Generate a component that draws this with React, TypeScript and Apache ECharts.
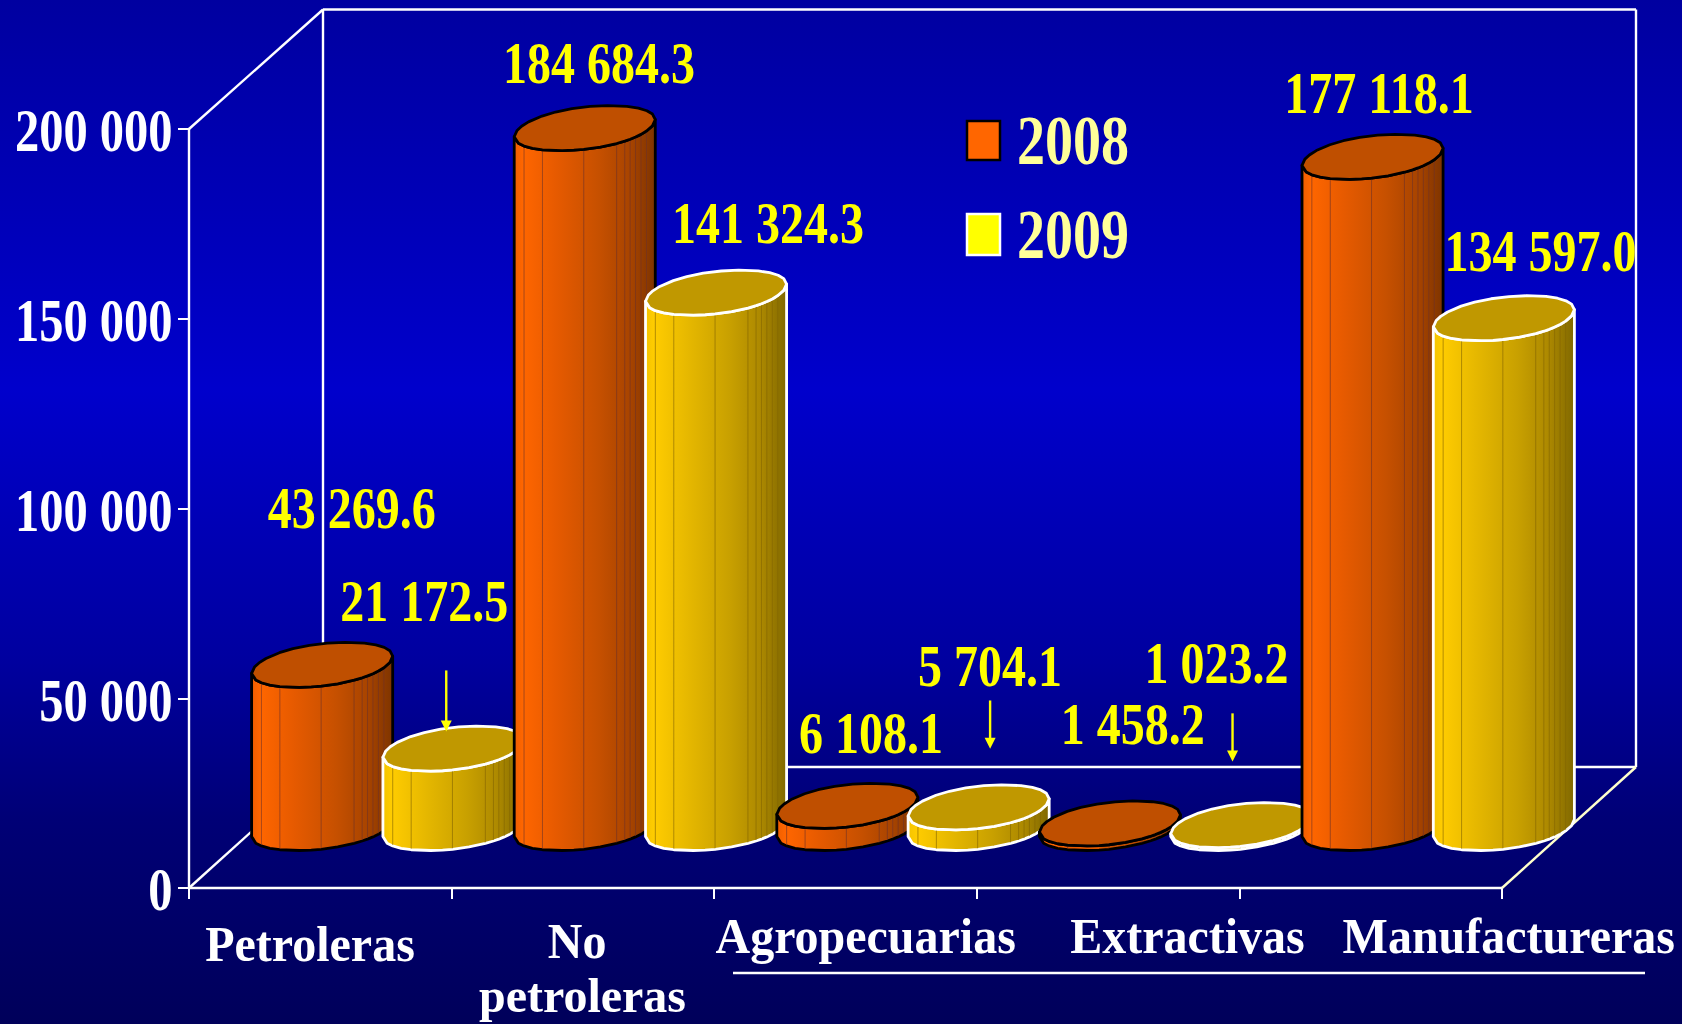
import React, { useEffect, useRef } from "react";
import * as echarts from "echarts";

const categories = ["Petroleras", "No petroleras", "Agropecuarias", "Extractivas", "Manufactureras"];
const seriesNames = ["2008", "2009"];
const values2008 = [43269.6, 184684.3, 6108.1, 1458.2, 177118.1];
const values2009 = [21172.5, 141324.3, 5704.1, 1023.2, 134597.0];
const yTicks = [0, 50000, 100000, 150000, 200000];

const fmt = (v: number) => {
  const [i, d] = v.toFixed(1).split(".");
  return i.replace(/\B(?=(\d{3})+$)/g, " ") + "." + d;
};
const fmtTick = (v: number) => String(v).replace(/\B(?=(\d{3})+$)/g, " ");

const W = 1682;
const H = 1024;
const GRID = { left: 189, top: 129, right: 180, bottom: 136 };
const DEPTH_X = 134;
const DEPTH_Y = -121;
const HALF_W = 65.4;
const HALF_DY = 22.5;
const HALF_DX = (HALF_DY * DEPTH_X) / -DEPTH_Y;
const ROUNDNESS = 0.96;
const PHI = Math.atan(Math.pow(HALF_DX / HALF_W, 1 / (2 - ROUNDNESS)));
const FRONT_F = [0.03, 0.07, 0.13, 0.2, 0.33, 0.41, 0.48, 0.6, 0.72, 0.78, 0.82, 0.86, 0.9, 0.94, 0.98];
const LINE_F = [0.07, 0.2, 0.48, 0.72, 0.78, 0.82, 0.86, 0.9, 0.94];
const BACK_F = [0.98, 0.94, 0.88, 0.8, 0.67, 0.55, 0.42, 0.3, 0.2, 0.1, 0.05, 0.02];
const SERIF = '"Liberation Serif", "Times New Roman", serif';

const palettes = [
  {
    stroke: "#000000",
    top: "#BF4F00",
    line: "rgba(110,50,40,0.6)",
    stops: ["#EE5E00", "#FF6600", "#E65A00", "#C65000", "#A84400", "#7E3400"],
  },
  {
    stroke: "#FFFFFF",
    top: "#C09800",
    line: "rgba(130,100,0,0.6)",
    stops: ["#F4C400", "#FFCC00", "#E6B800", "#C8A000", "#AC8800", "#806800"],
  },
];

const soft = (c: number) => Math.sign(c) * Math.pow(Math.abs(c), ROUNDNESS);

function ellipsePoint(cx: number, cy: number, theta: number) {
  const t = theta + PHI;
  const u = soft(Math.cos(t));
  const v = soft(Math.sin(t));
  return [cx + HALF_W * u + HALF_DX * v, cy - HALF_DY * v];
}
const frontTheta = (f: number) => 2 * Math.PI - Math.acos(2 * f - 1);
const backTheta = (f: number) => Math.acos(2 * f - 1);

function renderCylinder(params: any, api: any) {
  const cat = api.value(0);
  const val = api.value(1);
  const s = api.value(2);
  const band = api.size([1, 0])[0];
  const topC = api.coord([cat, val]);
  const baseC = api.coord([cat, 0]);
  const cx = topC[0] + (s === 0 ? -0.25 : 0.25) * band + DEPTH_X / 2 + 0.5;
  const ty = topC[1] + DEPTH_Y / 2 + 1.5;
  const by = baseC[1] + DEPTH_Y / 2 + 0.5;
  const p = palettes[s];

  const thetas = [Math.PI, ...FRONT_F.map(frontTheta), 2 * Math.PI];
  const frontTop = thetas.map((th) => ellipsePoint(cx, ty, th));
  const frontBase = thetas.map((th) => ellipsePoint(cx, by, th));
  const back = [0, ...BACK_F.map(backTheta), Math.PI].map((th) => ellipsePoint(cx, ty, th));
  const body = [...frontTop, ...frontBase.slice().reverse()];
  const top = [...back, ...frontTop.slice(1, -1)];

  const stops = [0, 0.06, 0.3, 0.6, 0.82, 1].map((offset, i) => ({ offset, color: p.stops[i] }));
  const children: any[] = [
    {
      type: "polygon",
      shape: { points: body },
      style: { fill: new echarts.graphic.LinearGradient(0, 0, 1, 0, stops), stroke: p.stroke, lineWidth: 2.8, lineJoin: "round" },
    },
  ];
  LINE_F.forEach((f) => {
    const a = ellipsePoint(cx, ty, frontTheta(f));
    const b = ellipsePoint(cx, by, frontTheta(f));
    children.push({
      type: "line",
      shape: { x1: a[0], y1: a[1], x2: b[0], y2: b[1] - 1 },
      style: { stroke: p.line, lineWidth: 1 },
    });
  });
  children.push({
    type: "polygon",
    shape: { points: top },
    style: { fill: p.top, stroke: p.stroke, lineWidth: 2.8, lineJoin: "round" },
  });
  return { type: "group", children };
}

function renderFrame(params: any) {
  const { x, y, width, height } = params.coordSys;
  const b = y + height;
  const r = x + width;
  const wallTop = y + DEPTH_Y + 1.5;
  const seg = (x1: number, y1: number, x2: number, y2: number, stroke = "#FFFFFF") => ({
    type: "line",
    shape: { x1, y1, x2, y2 },
    style: { stroke, lineWidth: 2.4 },
  });
  return {
    type: "group",
    children: [
      seg(x, y, x + DEPTH_X, wallTop),
      seg(x + DEPTH_X, wallTop, r + DEPTH_X, wallTop),
      seg(r + DEPTH_X, wallTop, r + DEPTH_X, b + DEPTH_Y),
      seg(x + DEPTH_X, wallTop, x + DEPTH_X, b + DEPTH_Y),
      seg(x + DEPTH_X, b + DEPTH_Y, r + DEPTH_X, b + DEPTH_Y),
      seg(x, b, x + DEPTH_X, b + DEPTH_Y),
      seg(r, b, r + DEPTH_X, b + DEPTH_Y, "#FFFFCC"),
    ],
  };
}

function renderYLabel(params: any, api: any) {
  const v = api.value(0);
  const c = api.coord([0, v]);
  return {
    type: "text",
    x: 172.5,
    y: c[1] + 2,
    scaleY: 1.26,
    style: {
      text: fmtTick(v),
      font: `bold 48.5px ${SERIF}`,
      fill: "#FFFFFF",
      align: "right",
      verticalAlign: "middle",
    },
  };
}

function tallText(text: string, cx: number, cy: number, size: number, fill: string, scaleY: number, shadow = false) {
  return {
    type: "text",
    z: 100,
    x: cx,
    y: cy,
    scaleY,
    style: {
      text,
      font: `bold ${size}px ${SERIF}`,
      fill,
      align: "center",
      verticalAlign: "middle",
      ...(shadow ? { textShadowColor: "#000000", textShadowOffsetX: 2, textShadowOffsetY: 2, textShadowBlur: 0 } : {}),
    },
  };
}

function arrow(x: number, y1: number, y2: number) {
  return [
    { type: "line", z: 100, shape: { x1: x, y1, x2: x, y2: y2 - 6 }, style: { stroke: "#FFFF00", lineWidth: 2.4 } },
    {
      type: "polygon",
      z: 100,
      shape: { points: [[x - 5.5, y2 - 11], [x + 5.5, y2 - 11], [x, y2]] },
      style: { fill: "#FFFF00" },
    },
  ];
}

export default function App() {
  const ref = useRef<HTMLDivElement>(null);
  useEffect(() => {
    const chart = echarts.init(ref.current!, undefined, { renderer: "svg" });
    const items: number[][] = [];
    categories.forEach((_, i) => {
      items.push([i, values2008[i], 0]);
      items.push([i, values2009[i], 1]);
    });
    const Y = 1.0727;
    const dataLabels = [
      [values2008[0], 328, 474],
      [values2009[0], 395.5, 560],
      [values2008[1], 558.5, 58.5],
      [values2009[1], 716, 208],
      [values2008[2], 812, 683],
      [values2009[2], 923, 621],
      [values2008[3], 1056, 675],
      [values2009[3], 1134, 618],
      [values2008[4], 1285.5, 87],
      [values2009[4], 1436, 234],
    ];
    chart.setOption({
      animation: false,
      backgroundColor: new echarts.graphic.LinearGradient(0, 0, 0, 1, [
        { offset: 0, color: "#0000A0" },
        { offset: 0.38, color: "#0000CC" },
        { offset: 0.64, color: "#0000A0" },
        { offset: 0.8, color: "#000076" },
        { offset: 1, color: "#00005A" },
      ]),
      grid: { ...GRID, containLabel: false },
      xAxis: {
        type: "category",
        data: categories,
        axisLine: { lineStyle: { color: "#FFFFFF", width: 2.4 } },
        axisTick: { show: true, alignWithLabel: false, length: 11, lineStyle: { color: "#FFFFFF", width: 2 } },
        axisLabel: { show: false },
        splitLine: { show: false },
      },
      yAxis: {
        type: "value",
        min: 0,
        max: 200000,
        interval: 50000,
        axisLine: { show: true, lineStyle: { color: "#FFFFFF", width: 2.4 } },
        axisTick: { show: true, length: 11, lineStyle: { color: "#FFFFFF", width: 2 } },
        axisLabel: { show: false },
        splitLine: { show: false },
      },
      series: [
        { type: "custom", name: "frame", z: 1, silent: true, renderItem: renderFrame, data: [[0, 0]], encode: { x: 0, y: 1 } },
        { type: "custom", name: "ticks", z: 3, silent: true, renderItem: renderYLabel, data: yTicks.map((v) => [v]), encode: { y: 0 } },
        { type: "custom", name: seriesNames.join("/"), z: 2, renderItem: renderCylinder, data: items, encode: { x: 0, y: 1 } },
      ],
      graphic: [
        ...dataLabels.map(([v, x, y]) => tallText(fmt(v), x * Y, y * Y, 48, "#FFFF00", 1.25)),
        tallText("Petroleras", 289 * Y, 880.5 * Y, 48, "#FFFFFF", 1.04, true),
        tallText("No", 538 * Y, 877.5 * Y, 48, "#FFFFFF", 1.04, true),
        tallText("petroleras", 543 * Y, 995, 48, "#FFFFFF", 1.02, true),
        tallText(categories[2], 807 * Y, 872.5 * Y, 48, "#FFFFFF", 1.04, true),
        tallText(categories[3], 1107 * Y, 872.5 * Y, 48, "#FFFFFF", 1.04, true),
        tallText(categories[4], 1406.5 * Y, 872.5 * Y, 48, "#FFFFFF", 1.04, true),
        { type: "line", z: 100, shape: { x1: 733, y1: 973, x2: 1645, y2: 973 }, style: { stroke: "#FFFFFF", lineWidth: 2.4 } },
        { type: "rect", z: 100, shape: { x: 967, y: 121, width: 33, height: 39 }, style: { fill: "#FF6600", stroke: "#000000", lineWidth: 2.5 } },
        { type: "rect", z: 100, shape: { x: 967, y: 214, width: 33, height: 41 }, style: { fill: "#FFFF00", stroke: "#FFFFFF", lineWidth: 2.5 } },
        tallText(seriesNames[0], 1073, 141, 56, "#FFFF99", 1.25),
        tallText(seriesNames[1], 1073, 235, 56, "#FFFF99", 1.25),
        ...arrow(416 * Y, 625 * Y, 682 * Y),
        ...arrow(923 * Y, 653 * Y, 698 * Y),
        ...arrow(1149 * Y, 665 * Y, 710 * Y),
      ],
    });
    return () => chart.dispose();
  }, []);
  return <div ref={ref} style={{ position: "absolute", left: 0, top: 0, width: W, height: H }} />;
}
